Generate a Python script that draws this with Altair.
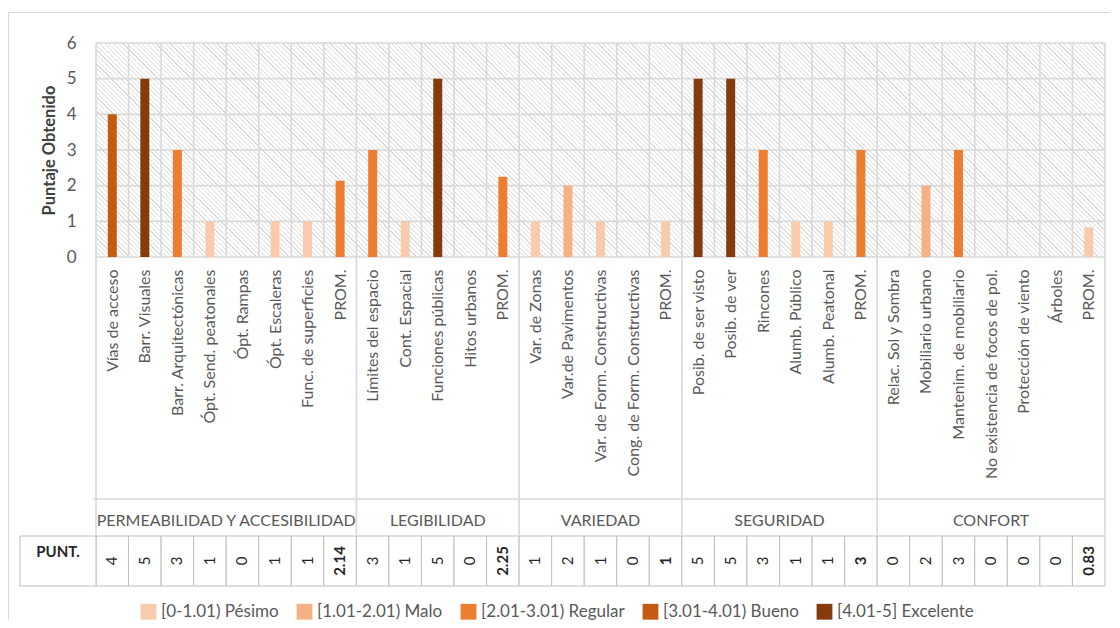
import json
import altair as alt
import pandas as pd

# ---------------- data ----------------
group_names = ["PERMEABILIDAD Y ACCESIBILIDAD", "LEGIBILIDAD", "VARIEDAD", "SEGURIDAD", "CONFORT"]
group_sizes = [8, 5, 5, 6, 7]

labels = [
    "Vías de acceso", "Barr. Visuales", "Barr. Arquitectónicas", "Ópt. Send. peatonales",
    "Ópt. Rampas", "Ópt. Escaleras", "Func. de superficies", "PROM.",
    "Límites del espacio", "Cont. Espacial", "Funciones públicas", "Hitos urbanos", "PROM.",
    "Var. de Zonas", "Var.de Pavimentos", "Var. de Form. Constructivas",
    "Cong. de Form. Constructivas", "PROM.",
    "Posib. de ser visto", "Posib. de ver", "Rincones", "Alumb. Público", "Alumb. Peatonal", "PROM.",
    "Relac. Sol y Sombra", "Mobiliario urbano", "Mantenim. de mobiliario",
    "No existencia de focos de pol.", "Protección de viento", "Árboles", "PROM.",
]
values = [
    4, 5, 3, 1, 0, 1, 1, 2.14,
    3, 1, 5, 0, 2.25,
    1, 2, 1, 0, 1,
    5, 5, 3, 1, 1, 3,
    0, 2, 3, 0, 0, 0, 0.83,
]

legend_labels = ["[0-1.01) Pésimo", "[1.01-2.01) Malo", "[2.01-3.01) Regular",
                 "[3.01-4.01) Bueno", "[4.01-5] Excelente"]
thresholds = [1.01, 2.01, 3.01, 4.01]
colors = ["#F8CBAD", "#F4B183", "#ED7D31", "#C55A11", "#843C0C"]
y_ticks = [0, 1, 2, 3, 4, 5, 6]
table_header = "PUNT."
y_title = "Puntaje Obtenido"

# ---------------- frames ----------------
n = len(labels)
y_lo, y_hi = y_ticks[0], y_ticks[-1]
df = pd.DataFrame({"idx": list(range(n)), "label": labels, "value": values})
df["center"] = df["idx"] + 0.5
df["right"] = df["idx"] + 1
df["rating"] = [legend_labels[sum(v >= t for t in thresholds)] for v in values]
df["text"] = [f"{v:g}" for v in values]
df["prom"] = df["label"] == "PROM."

bounds = [0]
for s in group_sizes:
    bounds.append(bounds[-1] + s)
gdf = pd.DataFrame({"name": group_names,
                    "center": [(a + b) / 2 for a, b in zip(bounds[:-1], bounds[1:])]})
bdf = pd.DataFrame({"b": bounds})
vgrid = pd.DataFrame({"b": list(range(n + 1)), "y0": y_lo, "y1": y_hi})
hgrid = pd.DataFrame({"v": y_ticks, "x0": 0, "x1": n})
box = pd.DataFrame({"x0": [0], "x1": [n], "y0": [y_lo], "y1": [y_hi]})
one = pd.DataFrame({"k": [0]})

# ---------------- layout / style ----------------
W, H = 1009, 214
FONT = "Lato"
GRID = "#D9D9D9"
TXT = "#595959"

xs = alt.Scale(domain=[0, n], nice=False, zero=False, padding=0)
ys = alt.Scale(domain=[y_lo, y_hi], nice=False, padding=0)

label_expr = json.dumps(labels, ensure_ascii=False) + "[floor(datum.value)]"
xaxis = alt.Axis(values=[i + 0.5 for i in range(n)], labelExpr=label_expr,
                 labelAngle=270, labelOverlap=False, labelFlush=False,
                 grid=False, ticks=False, domain=False, title=None,
                 labelPadding=12, labelFont=FONT, labelFontSize=16,
                 labelColor=TXT, labelLimit=400)
yaxis = alt.Axis(values=y_ticks, grid=False, ticks=False, domain=False,
                 labelPadding=20, labelFont=FONT, labelFontSize=17, labelColor=TXT,
                 title=y_title, titleFont=FONT, titleFontSize=16.5,
                 titleFontWeight="bold", titleColor="#404040", titlePadding=9)

# diagonal hatch drawn as a striped gradient (style only)
r = H / W
k = (1 + r) / (1 + r * r)
period = 4.7
N = int((W + H) / period)
d = 1.2 / period
stops = []
for j in range(N):
    t0 = j / N
    t1 = (j + d) / N
    t2 = (j + 1) / N
    stops += [alt.GradientStop(offset=t0, color="#DCDCDC"),
              alt.GradientStop(offset=t1, color="#DCDCDC"),
              alt.GradientStop(offset=t1, color="#FFFFFF"),
              alt.GradientStop(offset=t2, color="#FFFFFF")]
hatch_fill = alt.LinearGradient(gradient="linear", stops=stops,
                                x1=0, y1=1, x2=k, y2=1 - k * r)

hatch = alt.Chart(box).mark_rect(fill=hatch_fill, strokeWidth=0).encode(
    x=alt.X("x0:Q", scale=xs, axis=xaxis), x2="x1",
    y=alt.Y("y0:Q", scale=ys, axis=yaxis), y2="y1")

vlines = alt.Chart(vgrid).mark_rule(color=GRID, strokeWidth=1.6).encode(
    x=alt.X("b:Q", scale=xs, axis=xaxis),
    y=alt.Y("y0:Q", scale=ys, axis=yaxis), y2="y1")

hlines = alt.Chart(hgrid).mark_rule(color=GRID, strokeWidth=1.6).encode(
    y=alt.Y("v:Q", scale=ys, axis=yaxis),
    x=alt.X("x0:Q", scale=xs, axis=xaxis), x2="x1")

bars = alt.Chart(df).mark_bar(size=9, orient="vertical").encode(
    x=alt.X("center:Q", scale=xs, axis=xaxis),
    y=alt.Y("value:Q", scale=ys, stack=None, axis=yaxis),
    color=alt.Color("rating:N", scale=alt.Scale(domain=legend_labels, range=colors),
                    legend=alt.Legend(title=None, orient="none", legendX=44, legendY=560,
                                      direction="horizontal", columns=5,
                                      symbolType="square", symbolSize=250,
                                      symbolStrokeWidth=0, labelFont=FONT,
                                      labelFontSize=17, labelColor=TXT, labelOffset=4,
                                      columnPadding=17, padding=0)),
)

seps = alt.Chart(bdf).mark_rule(color=GRID, strokeWidth=1.6).encode(
    x=alt.X("b:Q", scale=xs, axis=xaxis),
    y=alt.value(H), y2=alt.value(H + 278))

hline = alt.Chart(one).mark_rule(color=GRID, strokeWidth=1.6).encode(
    x=alt.value(-3), x2=alt.value(W + 1), y=alt.value(H + 242))

glabels = alt.Chart(gdf).mark_text(font=FONT, fontSize=16, color=TXT, baseline="middle").encode(
    x=alt.X("center:Q", scale=xs, axis=xaxis), y=alt.value(H + 264), text="name:N")

cells = alt.Chart(df).mark_rect(fill="white", stroke="#BFBFBF", strokeWidth=1).encode(
    x=alt.X("idx:Q", scale=xs, axis=xaxis), x2="right",
    y=alt.value(H + 279), y2=alt.value(H + 329))

cell_text = alt.Chart(df).transform_filter("!datum.prom").mark_text(
    font=FONT, fontSize=15, color="#262626", angle=270, baseline="middle", align="center").encode(
    x=alt.X("center:Q", scale=xs, axis=xaxis), y=alt.value(H + 304), text="text:N")

cell_text_b = alt.Chart(df).transform_filter("datum.prom").mark_text(
    font=FONT, fontSize=15, fontWeight="bold", color="#262626", angle=270,
    baseline="middle", align="center").encode(
    x=alt.X("center:Q", scale=xs, axis=xaxis), y=alt.value(H + 304), text="text:N")

punt_cell = alt.Chart(one).mark_rect(fill="white", stroke="#BFBFBF", strokeWidth=1).encode(
    x=alt.value(-76), x2=alt.value(0), y=alt.value(H + 279), y2=alt.value(H + 329))

punt_text = alt.Chart(one).mark_text(font=FONT, fontSize=15, fontWeight="bold",
                                     color="#262626", baseline="middle").encode(
    x=alt.value(-38), y=alt.value(H + 295), text=alt.value(table_header))

frame = alt.Chart(one).mark_rect(fill="white", fillOpacity=0, stroke=GRID, strokeWidth=1).encode(
    x=alt.value(-87.5), x2=alt.value(W + 100), y=alt.value(-30.5), y2=alt.value(H + 500))

chart = alt.layer(
    frame, hatch, vlines, hlines, bars, seps, hline, glabels,
    cells, cell_text, cell_text_b, punt_cell, punt_text,
).properties(
    width=W, height=H,
    autosize=alt.AutoSizeParams(type="none"),
    padding={"left": 88, "top": 35, "right": 5, "bottom": 363},
    background="white",
).configure_view(stroke=None)

chart.save("out.html", embed_options={"renderer": "svg", "actions": False})
